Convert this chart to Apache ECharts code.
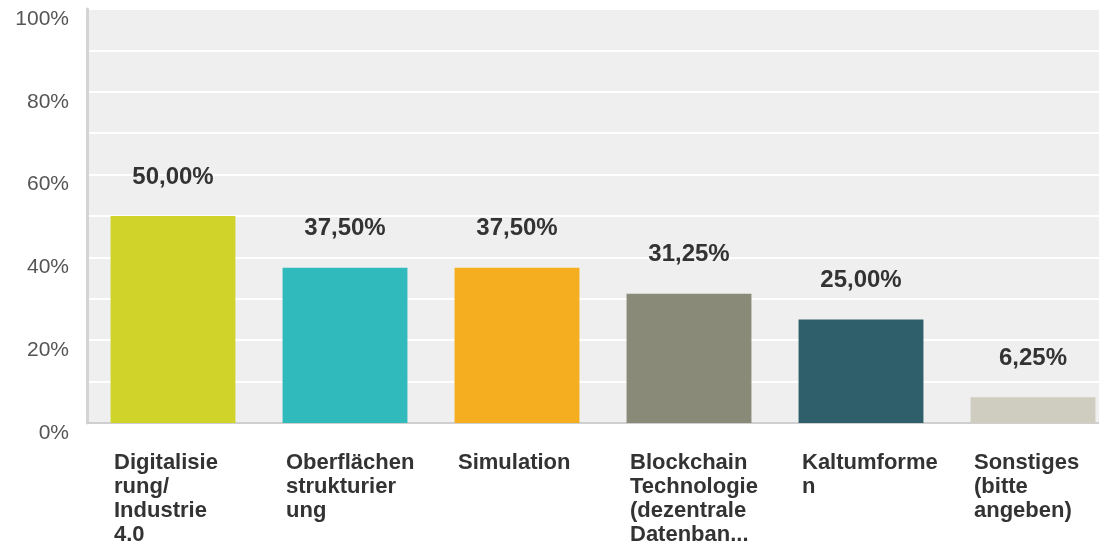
<!DOCTYPE html>
<html>
<head>
<meta charset="utf-8">
<script src="https://cdn.jsdelivr.net/npm/echarts@6/dist/echarts.min.js"></script>
<style>
  html, body { margin: 0; padding: 0; background: #fff; overflow: hidden; }
  #chart { width: 1120px; height: 547px; }
</style>
</head>
<body>
<div id="chart"></div>
<script>
const categories = [
  'Digitalisie\nrung/\nIndustrie\n4.0',
  'Oberflächen\nstrukturier\nung',
  'Simulation',
  'Blockchain\nTechnologie\n(dezentrale\nDatenban...',
  'Kaltumforme\nn',
  'Sonstiges\n(bitte\nangeben)'
];
const values = [50.00, 37.50, 37.50, 31.25, 25.00, 6.25];
const colors = ['#d0d42a', '#30babc', '#f5ae1f', '#898a78', '#2e5f6b', '#cfcdbf'];
const yTicks = [0, 20, 40, 60, 80, 100];

const chart = echarts.init(document.getElementById('chart'));
const font = 'Liberation Sans, Arial, sans-serif';

const option = {
  animation: false,
  grid: {
    left: 87,
    top: 9,
    bottom: 124,
    right: 1,
    show: true,
    backgroundColor: '#efefef',
    borderWidth: 0
  },
  xAxis: {
    type: 'category',
    data: categories,
    axisTick: { show: false },
    axisLine: { show: true, lineStyle: { color: '#cfcfcf', width: 2 } },
    axisLabel: {
      interval: 0,
      align: 'left',
      verticalAlign: 'top',
      margin: 28,
      padding: [0, 0, 0, -59],
      color: '#333',
      fontFamily: font,
      fontWeight: 'bold',
      fontSize: 22,
      lineHeight: 24
    }
  },
  yAxis: {
    type: 'value',
    min: yTicks[0],
    max: yTicks[yTicks.length - 1],
    interval: 20,
    axisTick: { show: false },
    axisLine: { show: true, lineStyle: { color: '#d4d4d4', width: 3 } },
    splitLine: { show: true, lineStyle: { color: '#ffffff', width: 2 } },
    minorTick: { show: false, splitNumber: 2 },
    minorSplitLine: { show: true, lineStyle: { color: '#ffffff', width: 2 } },
    axisLabel: {
      margin: 18,
      color: '#555',
      fontFamily: font,
      fontSize: 21,
      verticalAlign: 'top',
      lineHeight: 20,
      formatter: v => v + '%'
    }
  },
  series: [{
    type: 'bar',
    barWidth: '72.6%',
    data: values.map((v, i) => ({ value: v, itemStyle: { color: colors[i] } })),
    label: {
      show: true,
      position: 'top',
      distance: 27,
      color: '#333',
      fontFamily: font,
      fontWeight: 'bold',
      fontSize: 24,
      formatter: p => p.value.toFixed(2).replace('.', ',') + '%'
    }
  }]
};

chart.setOption(option);
</script>
</body>
</html>
